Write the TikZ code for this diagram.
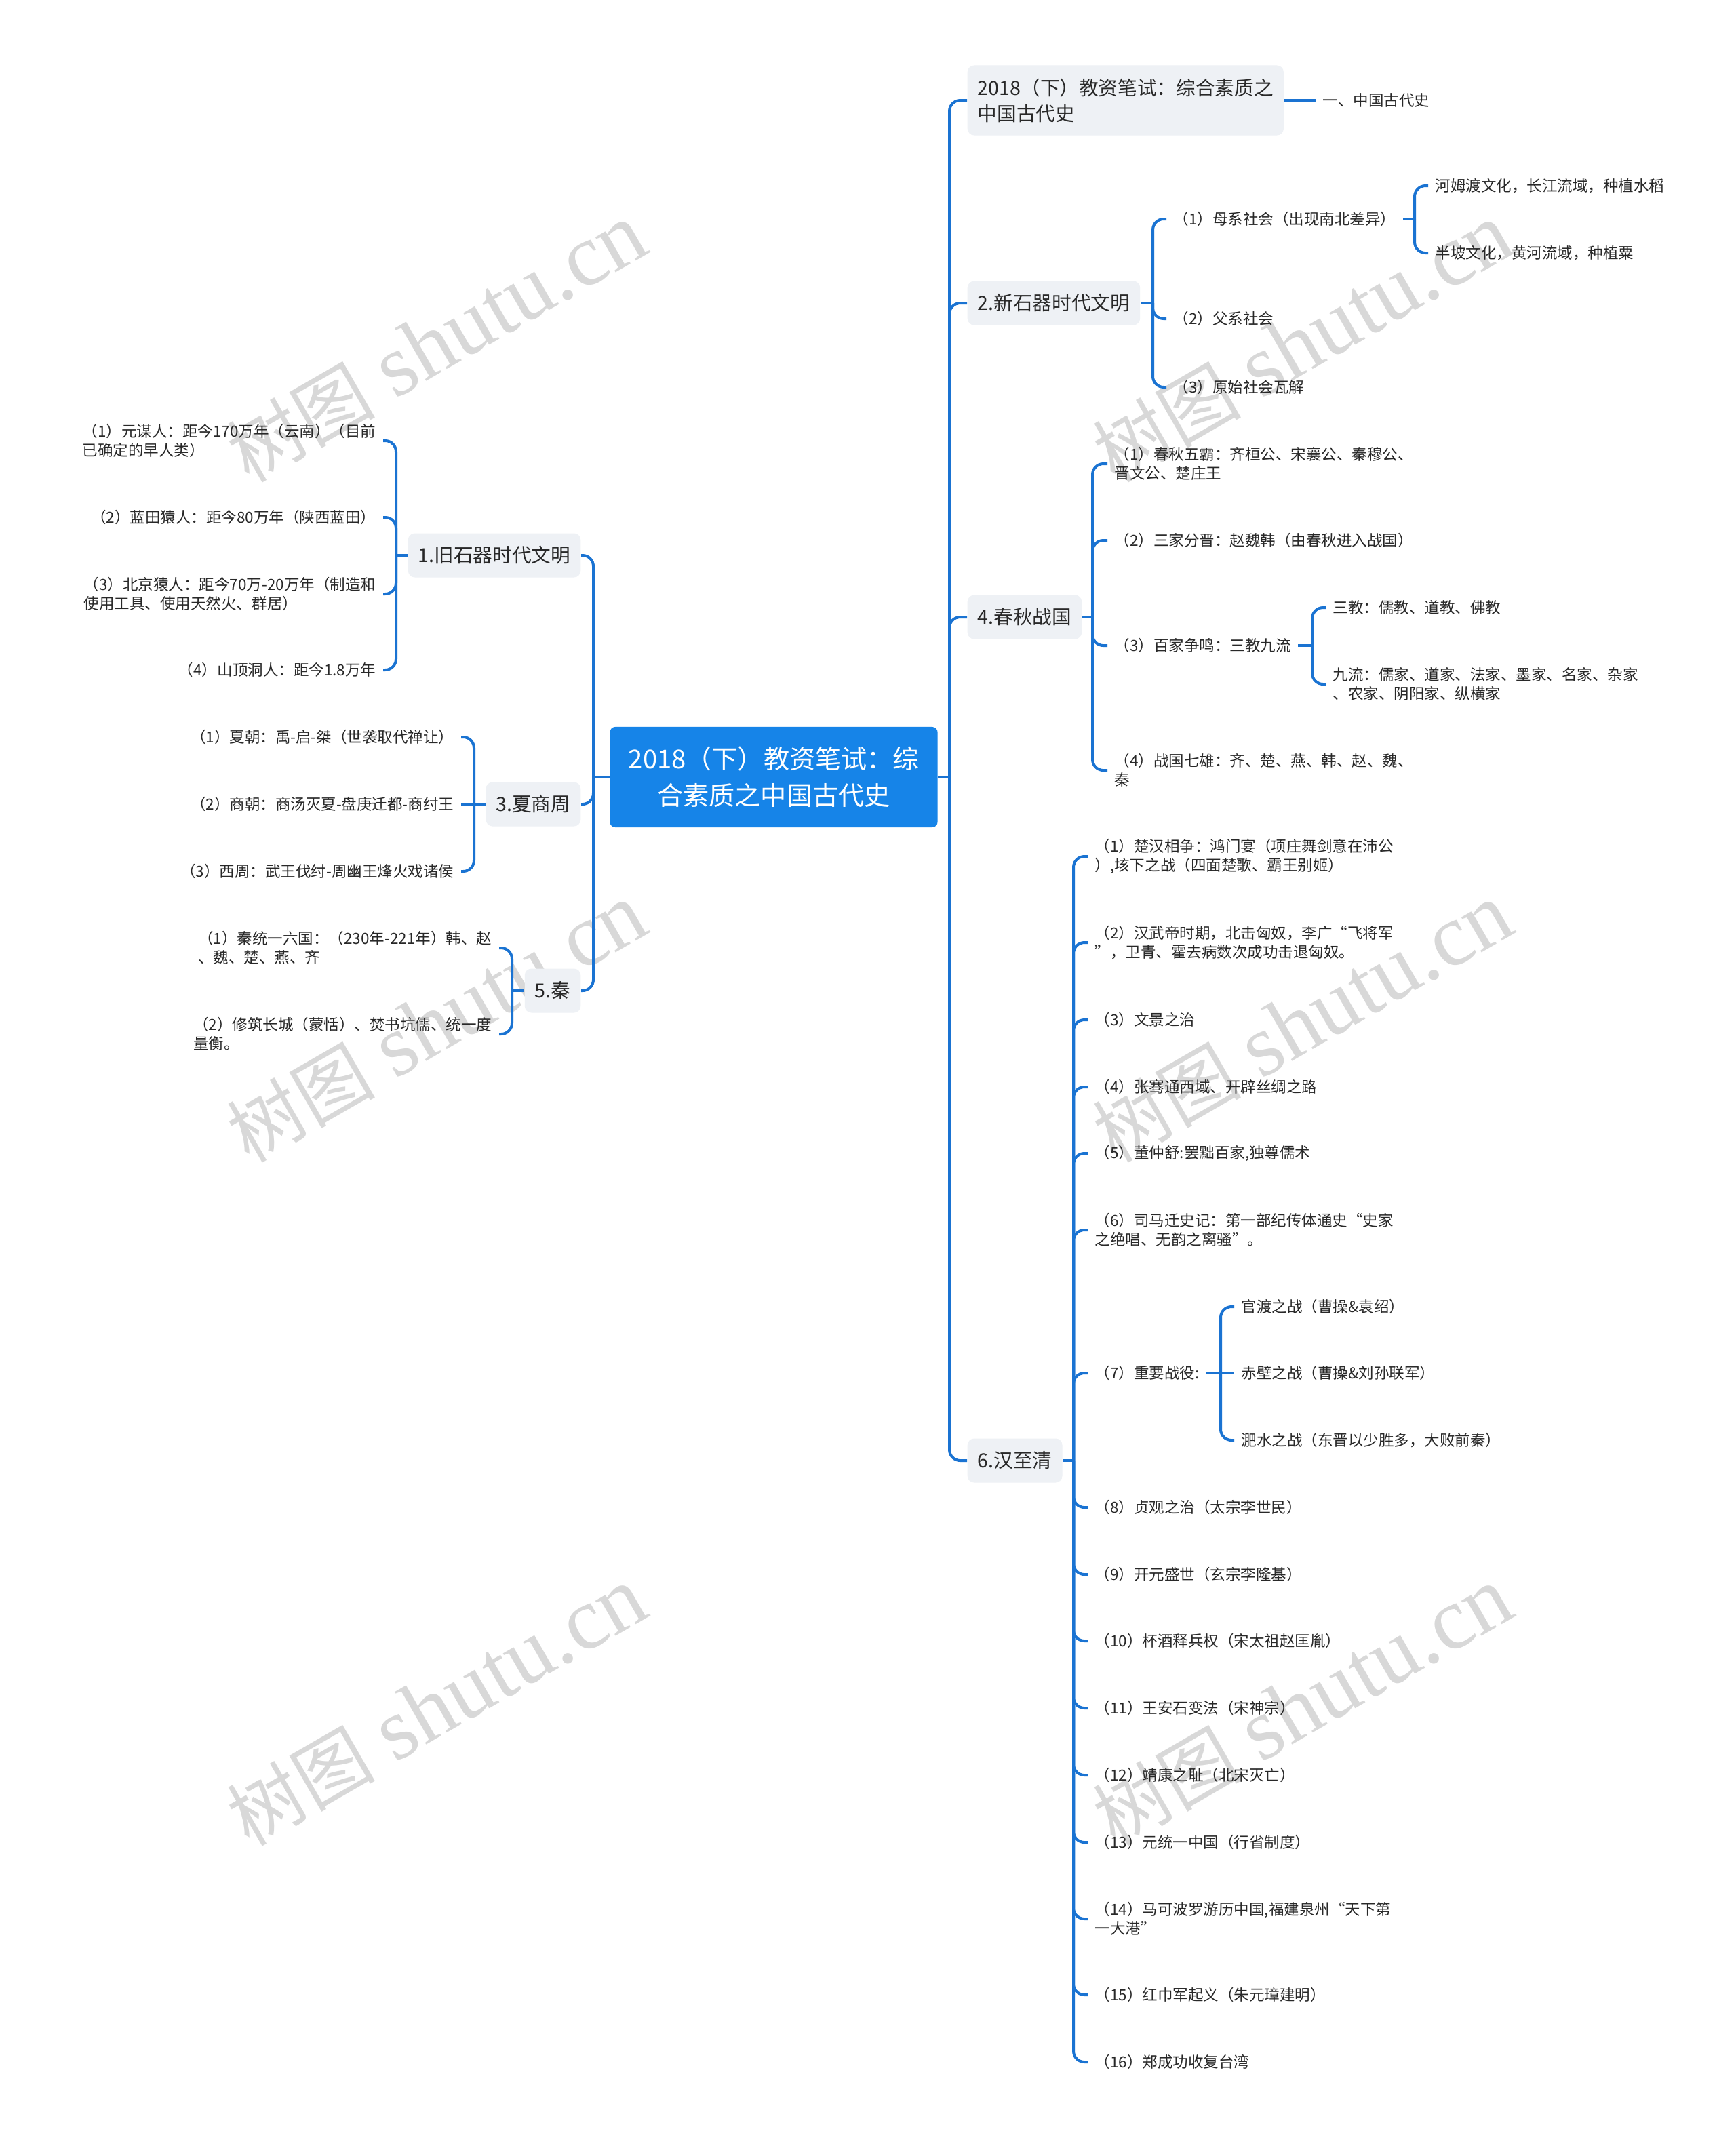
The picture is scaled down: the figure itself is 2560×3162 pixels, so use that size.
\documentclass[tikz,border=0pt]{standalone}
\usepackage{fontspec}
\setmainfont{Noto Sans CJK SC}
\newfontfamily\wmfont{Liberation Serif}
\usepackage{xcolor}
\usepackage{tikz}

\definecolor{linkblue}{RGB}{26,115,210}
\definecolor{rootblue}{RGB}{22,132,232}
\definecolor{topicgray}{RGB}{238,241,245}
\definecolor{txtgray}{RGB}{40,40,40}
\definecolor{wmgray}{RGB}{216,216,216}

\newcommand{\shutu}{{\fontsize{31}{31}\selectfont 树图}\hspace{0.3cm}{\wmfont\fontsize{37}{37}\selectfont shutu.cn}}

\tikzset{
  root/.style={fill=rootblue, rounded corners=0.08cm, text=white, align=center,
    minimum width=4.83cm, minimum height=1.48cm, inner sep=0pt,
    font=\fontsize{10.85}{15.4}\selectfont},
  topic/.style={fill=topicgray, rounded corners=0.1cm, text=txtgray, align=left,
    inner xsep=0.15cm, inner ysep=0.1cm, minimum height=0.65cm,
    font=\fontsize{8.15}{10.8}\selectfont},
  sub/.style={text=txtgray, align=left, inner xsep=0.1cm, inner ysep=0.04cm,
    font=\fontsize{6.4}{8.0}\selectfont},
  link/.style={draw=linkblue, line width=0.04cm, rounded corners=0.16cm},
  wmark/.style={text=wmgray, rotate=30}
}

\begin{document}
\begin{tikzpicture}[x=0.01cm,y=-0.01cm]
        \fill[white] (0,0) rectangle (2560,3162);
        \useasboundingbox (0,0) rectangle (2560,3162);

        %watermarks
        \node[wmark] (w1) at (644,506) {\shutu};
        \node[wmark] (w2) at (644,1509) {\shutu};
        \node[wmark] (w3) at (644,2517) {\shutu};
        \node[wmark] (w4) at (1921,506) {\shutu};
        \node[wmark] (w5) at (1921,1509) {\shutu};
        \node[wmark] (w6) at (1921,2517) {\shutu};

        %center
        \node[root] (c) at (1141,1146) {2018（下）教资笔试：综\\合素质之中国古代史};

        %right topics
        \node[topic, anchor=west, minimum height=1.03cm] (r0) at (1426,148) {2018（下）教资笔试：综合素质之\\中国古代史};
        \node[topic, anchor=west] (r2) at (1426,447) {2.新石器时代文明};
        \node[topic, anchor=west] (r4) at (1426,910) {4.春秋战国};
        \node[topic, anchor=west] (r6) at (1426,2154) {6.汉至清};

        %left topics
        \node[topic, anchor=east] (l1) at (857,819) {1.旧石器时代文明};
        \node[topic, anchor=east] (l3) at (857,1186) {3.夏商周};
        \node[topic, anchor=east] (l5) at (857,1461) {5.秦};

        \draw[link] (c.east) -- (1400,1146);
        \foreach \n in {r0,r2,r4,r6} \draw[link] (1400,1146) |- (\n.west);
        \draw[link] (c.west) -- (875,1146);
        \foreach \n in {l1,l3,l5} \draw[link] (875,1146) |- (\n.east);

        %title branch
        \node[sub, anchor=west] (r0a) at (1940,148) {一、中国古代史};
        \draw[link] (r0.east) -- (r0a.west);

        %neolithic
        \node[sub, anchor=west] (r2a) at (1720,323) {（1）母系社会（出现南北差异）};
        \node[sub, anchor=west] (r2b) at (1720,470) {（2）父系社会};
        \node[sub, anchor=west] (r2c) at (1720,571) {（3）原始社会瓦解};
        \draw[link] (r2.east) -- (1700,447);
        \foreach \n in {r2a,r2b,r2c} \draw[link] (1700,447) |- (\n.west);
        \node[sub, anchor=west] (r2a1) at (2106,274) {河姆渡文化，长江流域，种植水稻};
        \node[sub, anchor=west] (r2a2) at (2106,373) {半坡文化，黄河流域，种植粟};
        \draw[link] (r2a.east) -- (2086,323);
        \foreach \n in {r2a1,r2a2} \draw[link] (2086,323) |- (\n.west);

        %spring and autumn
        \node[sub, anchor=west] (r4a) at (1633,684) {（1）春秋五霸：齐桓公、宋襄公、秦穆公、\\晋文公、楚庄王};
        \node[sub, anchor=west] (r4b) at (1633,797) {（2）三家分晋：赵魏韩（由春秋进入战国）};
        \node[sub, anchor=west] (r4c) at (1633,952) {（3）百家争鸣：三教九流};
        \node[sub, anchor=west] (r4d) at (1633,1136) {（4）战国七雄：齐、楚、燕、韩、赵、魏、\\秦};
        \draw[link] (r4.east) -- (1611,910);
        \foreach \n in {r4a,r4b,r4c,r4d} \draw[link] (1611,910) |- (\n.west);
        \node[sub, anchor=west] (r4c1) at (1955,896) {三教：儒教、道教、佛教};
        \node[sub, anchor=west] (r4c2) at (1955,1009) {九流：儒家、道家、法家、墨家、名家、杂家\\、农家、阴阳家、纵横家};
        \draw[link] (r4c.east) -- (1935,952);
        \foreach \n in {r4c1,r4c2} \draw[link] (1935,952) |- (\n.west);

        %han to qing
        \node[sub, anchor=west] (h1) at (1604,1263) {（1）楚汉相争：鸿门宴（项庄舞剑意在沛公\\）,垓下之战（四面楚歌、霸王别姬）};
        \node[sub, anchor=west] (h2) at (1604,1390) {（2）汉武帝时期，北击匈奴，李广“飞将军\\”，卫青、霍去病数次成功击退匈奴。};
        \node[sub, anchor=west] (h3) at (1604,1504) {（3）文景之治};
        \node[sub, anchor=west] (h4) at (1604,1603) {（4）张骞通西域、开辟丝绸之路};
        \node[sub, anchor=west] (h5) at (1604,1701) {（5）董仲舒:罢黜百家,独尊儒术};
        \node[sub, anchor=west] (h6) at (1604,1814) {（6）司马迁史记：第一部纪传体通史“史家\\之绝唱、无韵之离骚”。};
        \node[sub, anchor=west] (h7) at (1604,2025) {（7）重要战役:};
        \node[sub, anchor=west] (h8) at (1604,2223) {（8）贞观之治（太宗李世民）};
        \node[sub, anchor=west] (h9) at (1604,2322) {（9）开元盛世（玄宗李隆基）};
        \node[sub, anchor=west] (h10) at (1604,2420) {（10）杯酒释兵权（宋太祖赵匡胤）};
        \node[sub, anchor=west] (h11) at (1604,2519) {（11）王安石变法（宋神宗）};
        \node[sub, anchor=west] (h12) at (1604,2618) {（12）靖康之耻（北宋灭亡）};
        \node[sub, anchor=west] (h13) at (1604,2717) {（13）元统一中国（行省制度）};
        \node[sub, anchor=west] (h14) at (1604,2830) {（14）马可波罗游历中国,福建泉州“天下第\\一大港”};
        \node[sub, anchor=west] (h15) at (1604,2942) {（15）红巾军起义（朱元璋建明）};
        \node[sub, anchor=west] (h16) at (1604,3041) {（16）郑成功收复台湾};
        \draw[link] (r6.east) -- (1583,2154);
        \foreach \i in {1,...,16} \draw[link] (1583,2154) |- (h\i.west);
        \node[sub, anchor=west] (h7a) at (1820,1927) {官渡之战（曹操\&袁绍）};
        \node[sub, anchor=west] (h7b) at (1820,2025) {赤壁之战（曹操\&刘孙联军）};
        \node[sub, anchor=west] (h7c) at (1820,2124) {淝水之战（东晋以少胜多，大败前秦）};
        \draw[link] (h7.east) -- (h7b.west);
        \draw[link] (1800,2025) |- (h7a.west) (1800,2025) |- (h7c.west);

        %paleolithic
        \node[sub, anchor=east] (l1a) at (565,650) {（1）元谋人：距今170万年（云南）（目前\\已确定的早人类）};
        \node[sub, anchor=east] (l1b) at (565,763) {（2）蓝田猿人：距今80万年（陕西蓝田）};
        \node[sub, anchor=east] (l1c) at (565,876) {（3）北京猿人：距今70万-20万年（制造和\\使用工具、使用天然火、群居）};
        \node[sub, anchor=east] (l1d) at (565,988) {（4）山顶洞人：距今1.8万年};
        \draw[link] (l1.west) -- (584,819);
        \foreach \n in {l1a,l1b,l1c,l1d} \draw[link] (584,819) |- (\n.east);

        %xia shang zhou
        \node[sub, anchor=east] (l3a) at (680,1087) {（1）夏朝：禹-启-桀（世袭取代禅让）};
        \node[sub, anchor=east] (l3b) at (680,1186) {（2）商朝：商汤灭夏-盘庚迁都-商纣王};
        \node[sub, anchor=east] (l3c) at (680,1285) {（3）西周：武王伐纣-周幽王烽火戏诸侯};
        \draw[link] (l3.west) -- (l3b.east);
        \draw[link] (699,1186) |- (l3a.east) (699,1186) |- (l3c.east);

        %qin
        \node[sub, anchor=east] (l5a) at (736,1398) {（1）秦统一六国：（230年-221年）韩、赵\\、魏、楚、燕、齐};
        \node[sub, anchor=east] (l5b) at (736,1525) {（2）修筑长城（蒙恬）、焚书坑儒、统一度\\量衡。};
        \draw[link] (l5.west) -- (755,1461);
        \foreach \n in {l5a,l5b} \draw[link] (755,1461) |- (\n.east);
\end{tikzpicture}
\end{document}
